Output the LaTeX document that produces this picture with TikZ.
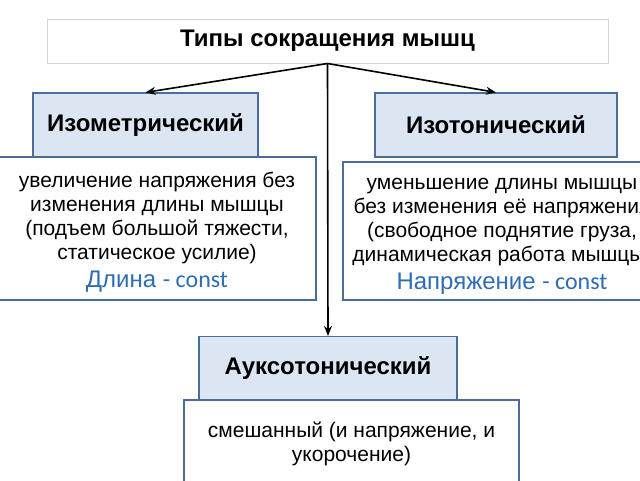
\documentclass[tikz,border=0pt]{standalone}
\usepackage{fontspec}
\setmainfont{Liberation Sans}
\newfontfamily\constfont{Carlito}
\usetikzlibrary{arrows.meta}

\definecolor{headfill}{HTML}{DCE6F2}
\definecolor{boxline}{HTML}{4A6D9C}
\definecolor{titleline}{HTML}{C8D5E4}
\definecolor{constblue}{HTML}{2E6DB4}

\begin{document}
\begin{tikzpicture}[
        x=1pt, y=-1pt,
        titlebox/.style={rectangle, draw=titleline, line width=1pt, minimum width=561pt, minimum height=44pt, inner sep=0pt, font=\fontsize{24}{28}\selectfont\bfseries},
        head/.style={rectangle, draw=boxline, fill=headfill, line width=1.2pt, minimum height=64pt, inner sep=0pt, font=\fontsize{24}{28}\selectfont\bfseries},
        desc/.style={rectangle, draw=boxline, fill=white, line width=1.2pt, inner sep=0pt, align=center, font=\fontsize{21}{24}\selectfont},
        arrow/.style={-{Stealth[length=10pt, width=8pt]}, line width=1.6pt}
    ]
    \useasboundingbox (0,0) rectangle (640,480);
    \clip (0,0) rectangle (640,480);

    % Title
    \node[titlebox] (title) at (327.5,41) {\raisebox{-2pt}{Типы сокращения мышц}};

    % Types
    \node[head, minimum width=225pt] (isometric) at (145.5,125) {\raisebox{-2pt}{Изометрический}};
    \node[head, minimum width=242pt] (isotonic) at (496,125) {\raisebox{-2pt}{Изотонический}};
    \node[head, minimum width=258pt, minimum height=63pt] (auxotonic) at (328,368) {Ауксотонический};

    % Descriptions
    \node[desc, minimum width=318pt, minimum height=143pt] (isometricdesc) at (157,228.5)
        {\rule{0pt}{22pt}увеличение напряжения без\\изменения длины мышцы\\(подъем большой тяжести,\\статическое усилие)\\[4pt]
         {\color{constblue}\fontsize{24}{24}\selectfont Длина {\constfont - const}}};
    \node[desc, minimum width=318pt, minimum height=138pt] (isotonicdesc) at (502,231)
        {\rule{0pt}{22pt}уменьшение длины мышцы\\без изменения её напряжения\\(свободное поднятие груза,\\динамическая работа мышцы)\\[4pt]
         {\color{constblue}\fontsize{24}{24}\selectfont Напряжение {\constfont - const}}};
    \node[desc, minimum width=335pt, minimum height=88pt] (auxotonicdesc) at (351.5,444)
        {смешанный (и напряжение, и\\укорочение)};

    % Arrows
    \draw[arrow] (title.south) -- (isometric.north);
    \draw[arrow] (title.south) -- (isotonic.north);
    \draw[arrow] (title.south) -- (auxotonic.north);

\end{tikzpicture}
\end{document}
